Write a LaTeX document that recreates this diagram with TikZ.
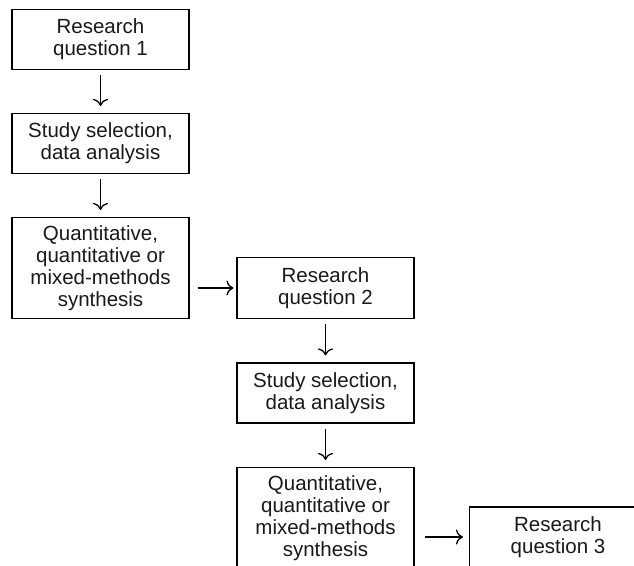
\documentclass[tikz,border=0pt]{standalone}
\usepackage{fontspec}
\setmainfont{Liberation Sans}
\usetikzlibrary{arrows.meta}
\begin{document}
\begin{tikzpicture}[x=1pt,y=-1pt,
  stagebox/.style={draw=black, line width=1.2pt, minimum width=177pt,
    inner sep=0pt, align=center, text=black!90,
    font=\fontsize{20.5}{22}\selectfont},
  flow/.style={line width=1.3pt, -{To[length=7pt,width=15pt]}}]
  \useasboundingbox (0,0) rectangle (634,565);
  \clip (0,0) rectangle (634,565);
  % first cycle
  \node[stagebox, minimum height=60pt]  (rq1) at (100.5,39.5) {Research\\question 1};
  \node[stagebox, minimum height=60pt]  (ss1) at (100.5,143.5) {Study selection,\\data analysis};
  \node[stagebox, minimum height=101pt] (sy1) at (100.5,268) {Quantitative,\\quantitative or\\mixed-methods\\synthesis};
  % second cycle
  \node[stagebox, minimum height=61pt]  (rq2) at (325.5,288) {Research\\question 2};
  \node[stagebox, minimum height=60pt]  (ss2) at (325.5,393) {Study selection,\\data analysis};
  \node[stagebox, minimum height=101pt] (sy2) at (325.5,518) {Quantitative,\\quantitative or\\mixed-methods\\synthesis};
  % third cycle
  \node[stagebox, minimum height=60pt]  (rq3) at (558,537) {Research\\question 3};
  % connectors
  \draw[flow, shorten <=5pt, shorten >=7pt] (rq1) -- (ss1);
  \draw[flow, shorten <=5pt, shorten >=7pt] (ss1) -- (sy1);
  \draw[flow, shorten <=8pt, shorten >=3pt] (sy1.east |- rq2) -- (rq2);
  \draw[flow, shorten <=5pt, shorten >=7pt] (rq2) -- (ss2);
  \draw[flow, shorten <=5pt, shorten >=7pt] (ss2) -- (sy2);
  \draw[flow, shorten <=10pt, shorten >=6pt] (sy2.east |- rq3) -- (rq3);
\end{tikzpicture}
\end{document}
